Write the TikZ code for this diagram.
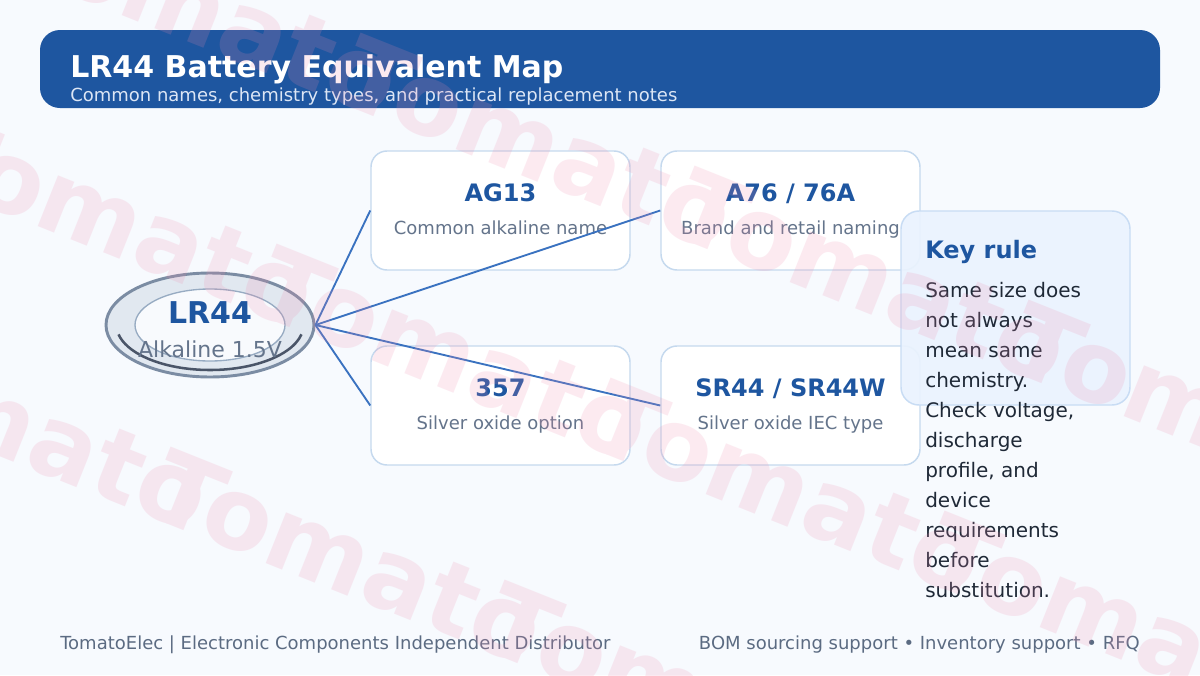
\documentclass[tikz,border=0pt]{standalone}
\usepackage{fontspec}
\setmainfont{DejaVu Sans}
\usepackage{xcolor}
\usepackage{tikz}
\usetikzlibrary{
  shapes.geometric,
  arrows.meta,
  positioning,
  calc
}
\definecolor{pagebg}{HTML}{F7FAFE}
\definecolor{brand}{HTML}{1E56A0}
\definecolor{headsub}{HTML}{DCE6F5}
\definecolor{cardline}{HTML}{C5D9EE}
\definecolor{muted}{HTML}{64748B}
\definecolor{linkblue}{HTML}{3A72C0}
\definecolor{rulefill}{HTML}{EAF3FE}
\definecolor{ruleline}{HTML}{C8DCF4}
\definecolor{bodyink}{HTML}{1F2937}
\definecolor{coinfill}{HTML}{E1E8F0}
\definecolor{coinrim}{HTML}{7B8CA3}
\definecolor{coininner}{HTML}{F8FAFD}
\definecolor{coinring}{HTML}{97ABC2}
\definecolor{coinarc}{HTML}{4A5568}
\definecolor{footink}{HTML}{5B6B82}
\definecolor{wmpink}{HTML}{F08CB0}

\begin{document}
\begin{tikzpicture}[x=0.75pt, y=-0.75pt,
  head/.style={rectangle, fill=brand, rounded corners=15pt,
               minimum width=840pt, minimum height=58.5pt},
  card/.style={rectangle, draw=cardline, fill=white, line width=1.1pt, rounded corners=12pt,
               minimum width=194.25pt, minimum height=89.25pt},
  ctitle/.style={anchor=base, inner sep=0pt, text=brand, font=\fontsize{18}{21}\selectfont\bfseries},
  csub/.style={anchor=base, inner sep=0pt, text=muted, font=\fontsize{13.5}{16}\selectfont},
  arr/.style={line width=1.4pt, linkblue},
  rulebox/.style={rectangle, draw=ruleline, fill=rulefill, fill opacity=0.92, line width=1.1pt,
                  rounded corners=13.5pt, minimum width=171.75pt, minimum height=145.5pt},
  foot/.style={inner sep=0pt, text=footink, font=\fontsize{13.5}{16}\selectfont},
  wm/.style={anchor=west, rotate=-21.8, text=wmpink,
             font=\fontsize{75}{80}\selectfont\bfseries, inner sep=0pt}
]
  \useasboundingbox (0,0) rectangle (1200,675);
  \fill[pagebg] (0,0) rectangle (1200,675);

  % header
  \node[head] (header) at (600,69) {};
  \node[anchor=base west, inner sep=0pt, text=white, font=\fontsize{22.5}{26}\selectfont\bfseries]
    (title) at (70,77) {LR44 Battery Equivalent Map};
  \node[anchor=base west, inner sep=0pt, text=headsub, font=\fontsize{13.5}{16}\selectfont]
    (subtitle) at (70,101) {Common names, chemistry types, and practical replacement notes};

  % coin
  \node[ellipse, draw=coinrim, fill=coinfill, line width=2.2pt, inner sep=0pt,
        minimum width=156pt, minimum height=78pt] (lr44) at (210,325) {};
  \draw[coinring, fill=coininner, line width=1pt] (lr44.center) ellipse [x radius=75, y radius=36];
  \draw[coinarc, line width=1.9pt] (lr44.center) ++(12:93.5 and 45)
    arc[start angle=12, end angle=168, x radius=93.5, y radius=45];
  \node[anchor=base, inner sep=0pt, text=brand, font=\fontsize{22.5}{26}\selectfont\bfseries]
    (lr44name) at (210,323) {LR44};
  \node[anchor=base, inner sep=0pt, text=muted, font=\fontsize{16.5}{19}\selectfont]
    (lr44chem) at (210,357) {Alkaline 1.5V};

  % equivalents
  \node[card] (ag13) at (500.5,210.5) {};
  \node[card] (a76)  at (790.5,210.5) {};
  \node[card] (n357) at (500.5,405.5) {};
  \node[card] (sr44) at (790.5,405.5) {};

  \node[ctitle] (ag13t) at (500.5,201) {AG13};
  \node[csub]   (ag13s) at (500.5,234) {Common alkaline name};
  \node[ctitle] (a76t)  at (790.5,201) {A76 / 76A};
  \node[csub]   (a76s)  at (790.5,234) {Brand and retail naming};
  \node[ctitle] (n357t) at (500.5,396) {357};
  \node[csub]   (n357s) at (500.5,429) {Silver oxide option};
  \node[ctitle] (sr44t) at (790.5,396) {SR44 / SR44W};
  \node[csub]   (sr44s) at (790.5,429) {Silver oxide IEC type};

  \draw[arr] (lr44.east) -- (ag13.west);
  \draw[arr] (lr44.east) -- (a76.west);
  \draw[arr] (lr44.east) -- (n357.west);
  \draw[arr] (lr44.east) -- (sr44.west);

  % key rule
  \node[rulebox] (rule) at (1015.5,308) {};
  \node[anchor=base west, inner sep=0pt, text=brand, font=\fontsize{18}{21}\selectfont\bfseries]
    (ruletitle) at (925,258) {Key rule};
  \node[anchor=north west, text=bodyink, align=left, inner sep=0pt,
        font=\fontsize{15}{22.5}\selectfont] (ruletext) at (925,282)
    {Same size does\\not always\\mean same\\chemistry.\\Check voltage,\\discharge\\profile, and\\device\\requirements\\before\\substitution.};

  % footer
  \node[foot, anchor=base west] (footl) at (60,649) {TomatoElec | Electronic Components Independent Distributor};
  \node[foot, anchor=base east] (footr) at (1140,649) {BOM sourcing support • Inventory support • RFQ};

  % watermark
  \begin{scope}[transparency group, opacity=0.18]
    \foreach \b/\xo in {-72/13, 173/-71, 418/-177}
      \foreach \k in {0,...,3}
        \node[wm] at ({\xo+334*\k},{\b+0.4*(\xo+334*\k)}) {Tomato};
  \end{scope}
\end{tikzpicture}
\end{document}
